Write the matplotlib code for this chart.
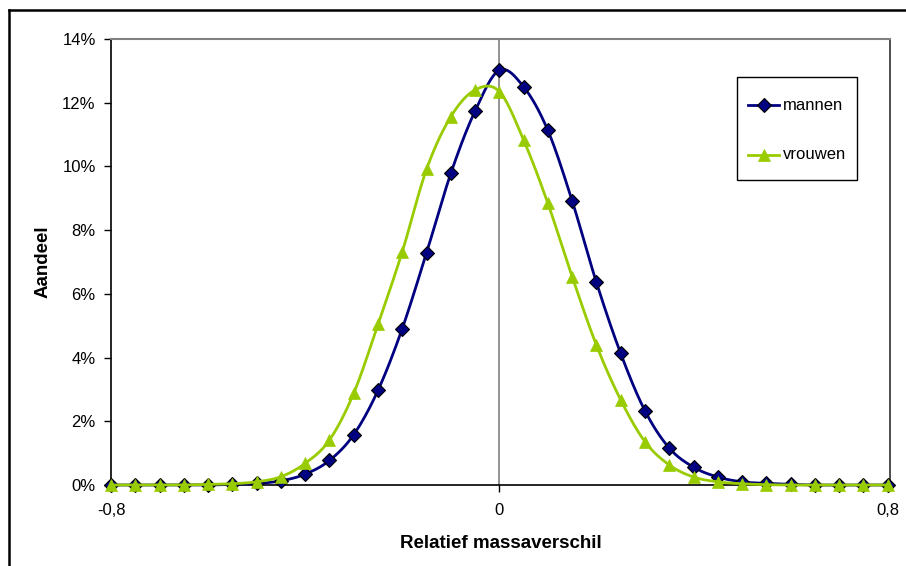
import numpy as np
import matplotlib
matplotlib.use("Agg")
import matplotlib.pyplot as plt
from matplotlib.lines import Line2D
from matplotlib.patches import Rectangle
from matplotlib.ticker import FuncFormatter

plt.rcParams['font.family'] = ['Liberation Sans', 'DejaVu Sans']

# Relative mass difference (bin centres) and share per bin (%)
x_vals = [-0.80, -0.75, -0.70, -0.65, -0.60, -0.55, -0.50, -0.45, -0.40, -0.35, -0.30,
          -0.25, -0.20, -0.15, -0.10, -0.05, 0.00, 0.05, 0.10, 0.15, 0.20, 0.25,
          0.30, 0.35, 0.40, 0.45, 0.50, 0.55, 0.60, 0.65, 0.70, 0.75, 0.80]
mannen = [0.0, 0.0, 0.0, 0.0, 0.0, 0.02, 0.05, 0.13, 0.34, 0.77, 1.58,
          2.97, 4.91, 7.29, 9.78, 11.74, 13.02, 12.50, 11.13, 8.92, 6.36, 4.13,
          2.33, 1.16, 0.56, 0.25, 0.10, 0.05, 0.02, 0.0, 0.0, 0.0, 0.0]
vrouwen = [0.0, 0.0, 0.0, 0.0, 0.02, 0.04, 0.10, 0.26, 0.68, 1.41, 2.88,
           5.04, 7.32, 9.91, 11.56, 12.40, 12.35, 10.83, 8.84, 6.54, 4.39, 2.67,
           1.36, 0.63, 0.25, 0.10, 0.04, 0.01, 0.0, 0.0, 0.0, 0.0, 0.0]
series_names = ['mannen', 'vrouwen']
x_ticks = [-0.8, 0.0, 0.8]
x_ticklabels = ['-0,8', '0', '0,8']
y_ticks = [0, 2, 4, 6, 8, 10, 12, 14]


def smooth_curve(xs, ys, sx=486.0, sy=31.86, n=24):
    """Bezier smoothing through every point (Catmull-Rom style)."""
    p = np.column_stack([np.asarray(xs) * sx, np.asarray(ys) * sy])
    p = np.vstack([p[0], p, p[-1]])
    out = []
    for i in range(1, len(p) - 2):
        p0, p1, p2, p3 = p[i - 1], p[i], p[i + 1], p[i + 2]
        c1 = p1 + (p2 - p0) / 6.0
        c2 = p2 - (p3 - p1) / 6.0
        t = np.linspace(0, 1, n)[:, None]
        seg = ((1 - t) ** 3) * p1 + 3 * ((1 - t) ** 2) * t * c1 + 3 * (1 - t) * t ** 2 * c2 + t ** 3 * p2
        out.append(seg if i == 1 else seg[1:])
    out = np.vstack(out)
    return out[:, 0] / sx, out[:, 1] / sy


W, H = 906, 566
fig = plt.figure(figsize=(W / 100, H / 100), dpi=100)
ax = fig.add_axes([111 / W, 1 - 485 / H, (890 - 111) / W, (485 - 39) / H])

navy = '#000080'
green = '#99CC00'
man_style = dict(marker='D', ms=6.8, mfc=navy, mec='black', mew=0.8)
vrouw_style = dict(marker='^', ms=9, mfc=green, mec=green, mew=0.5)

# vertical reference line at zero
ax.axvline(0, color='#808080', lw=1.2, zorder=1)

mx, my = smooth_curve(x_vals, mannen)
vx, vy = smooth_curve(x_vals, vrouwen)
ax.plot(mx, my, color=navy, lw=2.0, zorder=3, clip_on=False)
ax.plot(x_vals, mannen, ls='none', zorder=4, clip_on=False, **man_style)
ax.plot(vx, vy, color=green, lw=2.0, zorder=5, clip_on=False)
ax.plot(x_vals, vrouwen, ls='none', zorder=6, clip_on=False, **vrouw_style)

ax.set_xlim(-0.8, 0.8048)
ax.set_ylim(0, 14)
ax.set_xticks(x_ticks)
ax.set_xticklabels(x_ticklabels)
ax.set_yticks(y_ticks)
ax.yaxis.set_major_formatter(FuncFormatter(lambda v, p: f'{v:.0f}%'))
ax.tick_params(axis='both', direction='out', length=5, width=1, labelsize=12,
               color='black', labelcolor='black')
ax.tick_params(axis='x', pad=8)
ax.tick_params(axis='y', pad=6)

for side in ['left', 'bottom']:
    ax.spines[side].set_color('black')
    ax.spines[side].set_linewidth(1.2)
ax.spines['top'].set_color('#808080')
ax.spines['top'].set_linewidth(1.5)
ax.spines['right'].set_color('#303030')
ax.spines['right'].set_linewidth(1.2)

ax.set_xlabel('Relatief massaverschil', fontsize=13.5, fontweight='bold', labelpad=12)
ax.set_ylabel('Aandeel', fontsize=13.5, fontweight='bold', labelpad=8)

# legend box
fig.add_artist(Rectangle((737 / W, 1 - 180 / H), (857 - 737) / W, (180 - 77) / H,
                         transform=fig.transFigure, facecolor='white',
                         edgecolor='black', lw=1.0, zorder=10))
for name, yy, color, style in [(series_names[0], 105, navy, man_style),
                               (series_names[1], 155, green, vrouw_style)]:
    fy = 1 - yy / H
    fig.add_artist(Line2D([748 / W, 779 / W], [fy, fy], transform=fig.transFigure,
                          color=color, lw=2.0, zorder=11))
    fig.add_artist(Line2D([763.5 / W], [fy], transform=fig.transFigure, ls='none',
                          zorder=12, **style))
    fig.text(783 / W, fy, name, fontsize=12, va='center', ha='left', zorder=12)

# chart outer frame
fig.add_artist(Line2D([9 / W, 9 / W], [0, 1 - 10 / H], transform=fig.transFigure,
                      color='black', lw=1.8))
fig.add_artist(Line2D([9 / W, 1], [1 - 10 / H, 1 - 10 / H], transform=fig.transFigure,
                      color='black', lw=1.8))

fig.savefig('out.png', dpi=100)
